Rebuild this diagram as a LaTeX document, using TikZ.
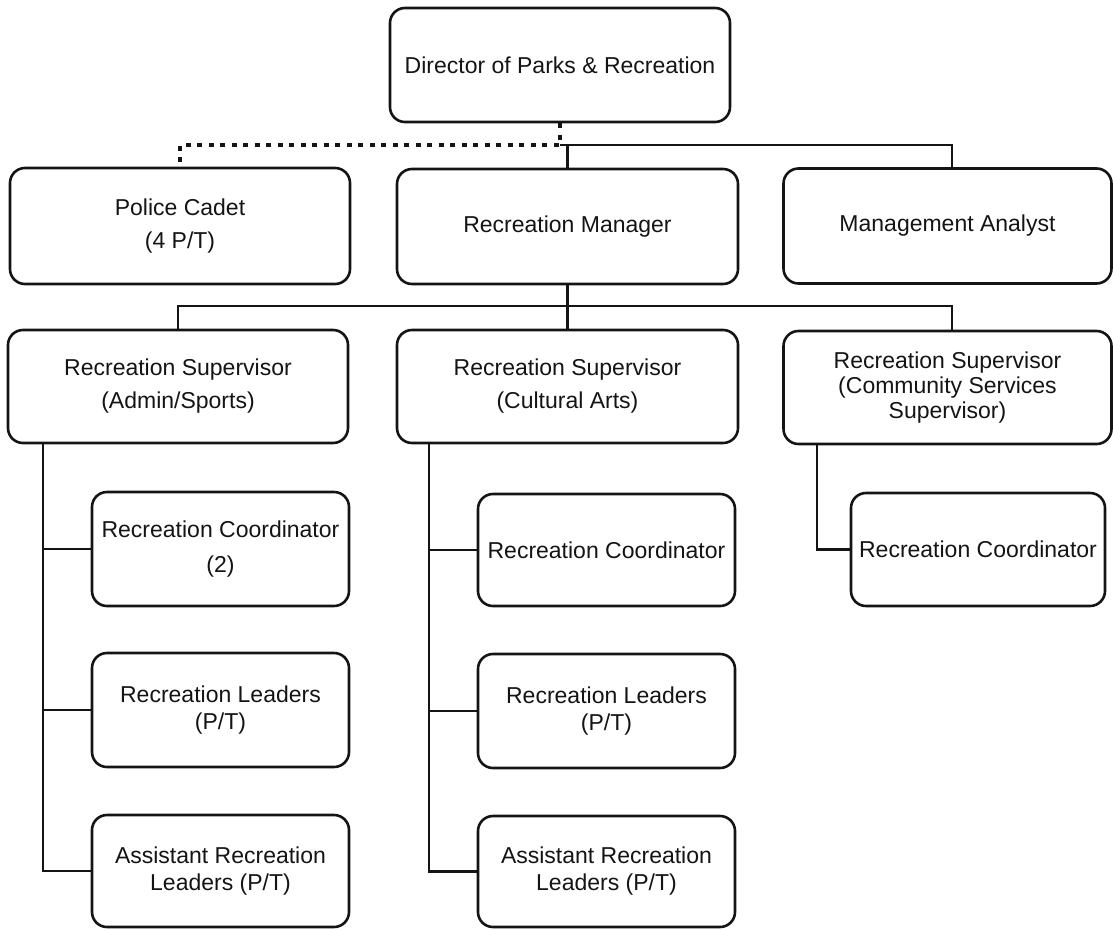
\documentclass[tikz,border=0pt]{standalone}
\usepackage{fontspec}
\setmainfont{Liberation Sans}
\definecolor{ink}{gray}{0.08}
\begin{document}
\begin{tikzpicture}[x=1pt,y=-1pt,
  orgbox/.style={draw=ink, text=ink, line width=2.6pt, rounded corners=15pt, align=center, inner sep=0pt, font=\fontsize{23}{33}\selectfont},
  wbig/.style={minimum width=340pt},
  wsmall/.style={minimum width=257pt},
  sp27/.style={font=\fontsize{23}{27}\selectfont},
  sp35/.style={font=\fontsize{23}{35}\selectfont},
  sp25/.style={font=\fontsize{23}{25}\selectfont},
  link/.style={draw=ink, line width=2.4pt},
  dotlink/.style={draw=ink, line width=4.5pt, dash pattern=on 5pt off 6.5pt}]
\useasboundingbox (0,0) rectangle (1113,929);
% level 0 and 1
\node[orgbox, wbig, minimum height=114pt] (dir) at (560,65) {Director of Parks \& Recreation};
\node[orgbox, wbig, minimum height=116pt] (cadet) at (180,226) {Police Cadet\\(4 P/T)};
\node[orgbox, minimum width=341pt, minimum height=115pt] (mgr) at (567.5,226.5) {Recreation Manager};
\node[orgbox, minimum width=328pt, minimum height=115pt] (analyst) at (947.5,226) {Management Analyst};
% supervisors
\node[orgbox, wbig, minimum height=113pt] (sup1) at (178,386.5) {Recreation Supervisor\\(Admin/Sports)};
\node[orgbox, minimum width=341pt, minimum height=113pt] (sup2) at (567.5,386.5) {Recreation Supervisor\\(Cultural Arts)};
\node[orgbox, sp25, minimum width=328pt, minimum height=113pt] (sup3) at (947.5,387.5) {Recreation Supervisor\\(Community Services\\Supervisor)};
% admin column
\node[orgbox, sp35, wsmall, minimum height=114pt] (coord1) at (220.5,549) {Recreation Coordinator\\(2)};
\node[orgbox, sp27, wsmall, minimum height=114pt] (lead1) at (220.5,710) {Recreation Leaders\\(P/T)};
\node[orgbox, sp27, wsmall, minimum height=112pt] (asst1) at (220.5,871) {Assistant Recreation\\Leaders (P/T)};
% cultural column
\node[orgbox, wsmall, minimum height=112pt] (coord2) at (606.5,550) {Recreation Coordinator};
\node[orgbox, sp27, wsmall, minimum height=114pt] (lead2) at (606.5,711) {Recreation Leaders\\(P/T)};
\node[orgbox, sp27, wsmall, minimum height=111pt] (asst2) at (606.5,871.5) {Assistant Recreation\\Leaders (P/T)};
% community column
\node[orgbox, minimum width=254pt, minimum height=113pt] (coord3) at (978,549.5) {Recreation Coordinator};
% connectors top
\coordinate (j1) at (567.5,145);
\draw[link] (dir.south |- j1) -| ([xshift=4.5pt]analyst.north);
\draw[link] (j1) -- (mgr.north);
\draw[dotlink] (dir.south) -- (dir.south |- j1) -| (cadet.north);
% level 2
\coordinate (j2) at (567.5,306);
\draw[link] (mgr.south) -- (sup2.north);
\draw[link] (sup1.north) |- (j2) -| ([xshift=4.5pt]sup3.north);
% columns
\coordinate (t1) at (43,443);
\draw[link] (t1) |- (asst1.west);
\draw[link] (t1 |- coord1.west) -- (coord1.west);
\draw[link] (t1 |- lead1.west) -- (lead1.west);
\coordinate (t2) at (429,443);
\draw[link] (t2) |- (asst2.west);
\draw[link] (t2 |- coord2.west) -- (coord2.west);
\draw[link] (t2 |- lead2.west) -- (lead2.west);
\coordinate (t3) at (817,444);
\draw[link] (t3) |- (coord3.west);
\end{tikzpicture}
\end{document}
